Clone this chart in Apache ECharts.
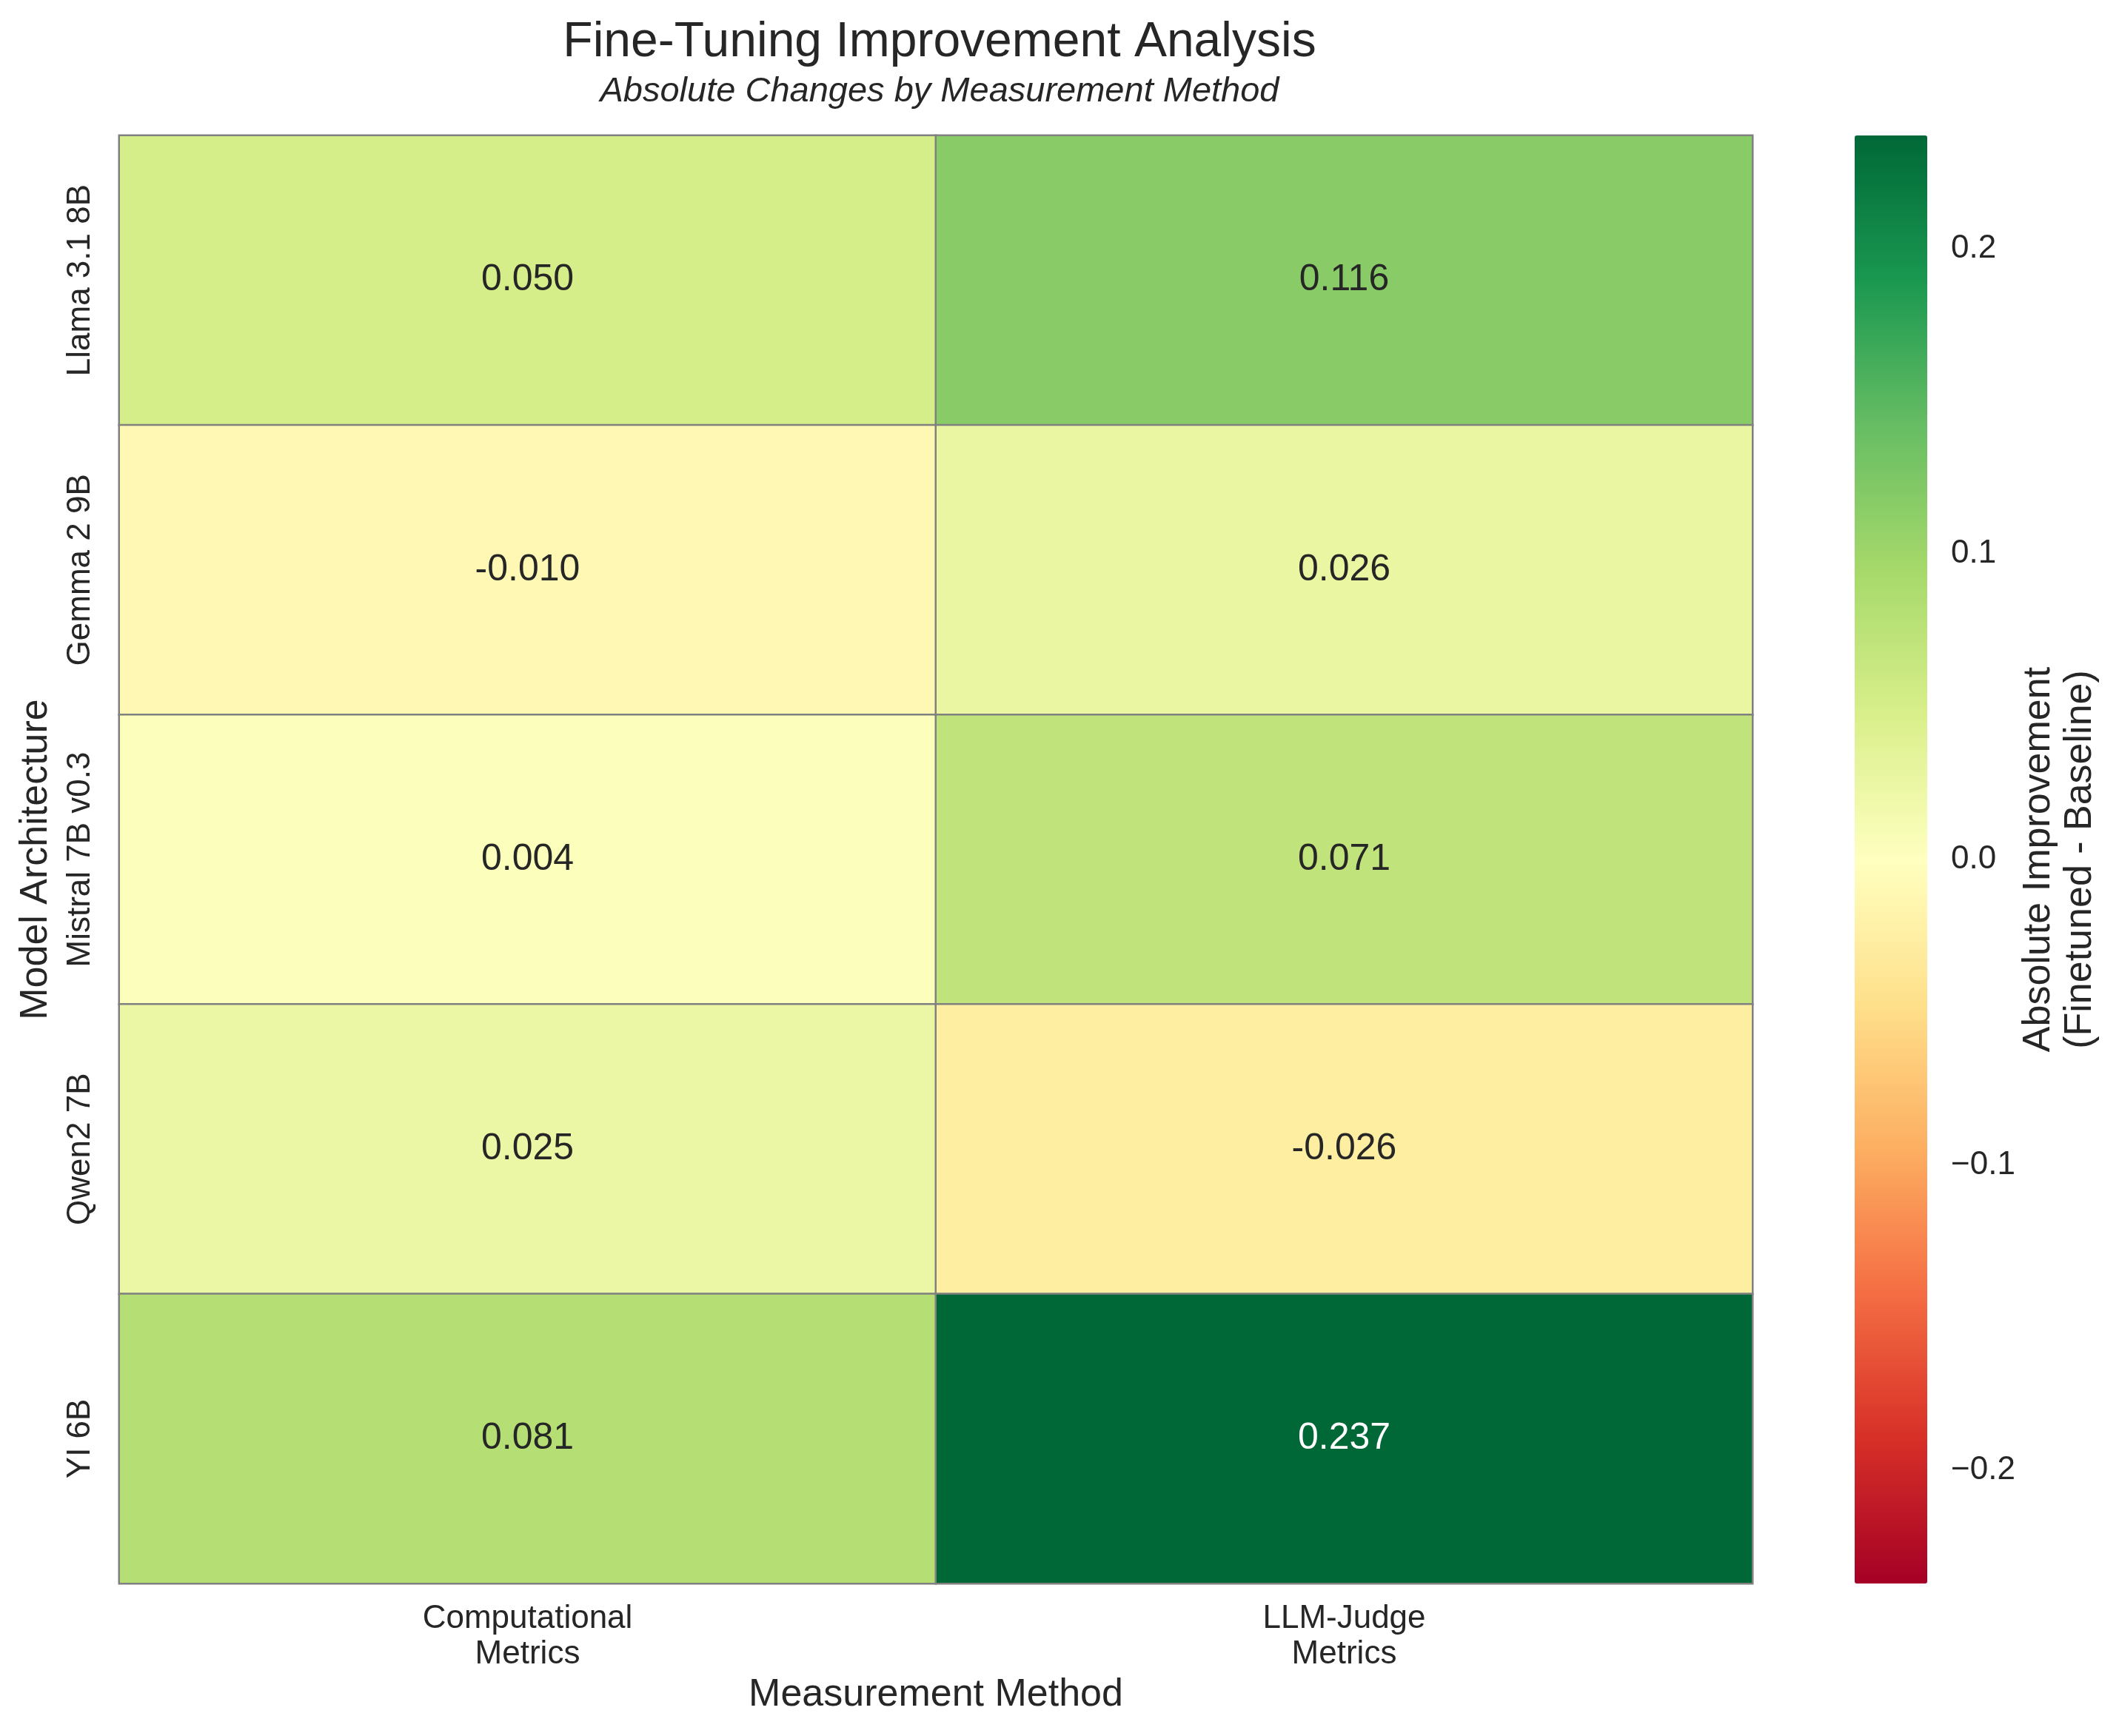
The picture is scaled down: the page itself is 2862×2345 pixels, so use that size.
<!DOCTYPE html>
<html>
<head>
<meta charset="utf-8">
<title>Fine-Tuning Improvement Analysis</title>
<script src="https://cdn.jsdelivr.net/npm/echarts@6/dist/echarts.min.js"></script>
<style>
  html, body { margin: 0; padding: 0; background: #fff; }
  #chart { width: 2862px; height: 2345px; }
</style>
</head>
<body>
<div id="chart"></div>
<script>
// data
var models = ['Llama 3.1 8B', 'Gemma 2 9B', 'Mistral 7B v0.3', 'Qwen2 7B', 'YI 6B'];
var methods = ['Computational\nMetrics', 'LLM-Judge\nMetrics'];
var computational = [0.050, -0.010, 0.004, 0.025, 0.081];
var llmJudge = [0.116, 0.026, 0.071, -0.026, 0.237];
var cbarTicks = [-0.2, -0.1, 0.0, 0.1, 0.2];

// RdYlGn
var rdYlGn = ['#a50026', '#d73027', '#f46d43', '#fdae61', '#fee08b', '#ffffbf',
  '#d9ef8b', '#a6d96a', '#66bd63', '#1a9850', '#006837'];

var font = "'Liberation Sans', Arial, sans-serif";
var ink = '#262626';

// symmetric range around 0
var vmax = 0;
computational.concat(llmJudge).forEach(function (v) {
  if (Math.abs(v) > vmax) vmax = Math.abs(v);
});

var cells = [];
[computational, llmJudge].forEach(function (col, x) {
  col.forEach(function (v, y) {
    cells.push({
      value: [x, y, v],
      label: { color: Math.abs(v) > 0.18 ? '#ffffff' : ink }
    });
  });
});

var chart = echarts.init(document.getElementById('chart'));
var option = {
  backgroundColor: '#ffffff',
  animation: false,
  textStyle: { fontFamily: font, color: ink },
  title: [
    {
      text: 'Fine-Tuning Improvement Analysis',
      left: 1264, top: 20, textAlign: 'center',
      textStyle: { fontFamily: font, fontSize: 66, fontWeight: 'normal', color: ink }
    },
    {
      text: 'Absolute Changes by Measurement Method',
      left: 1264, top: 95, textAlign: 'center',
      textStyle: { fontFamily: font, fontSize: 47, fontStyle: 'italic', fontWeight: 'normal', color: ink }
    }
  ],
  grid: [
    { left: 161, top: 183, width: 2206, height: 1956 },
    { left: 2505, top: 183, width: 98, height: 1956 }
  ],
  xAxis: [
    {
      type: 'category', gridIndex: 0, data: methods, position: 'bottom',
      name: 'Measurement Method', nameLocation: 'middle', nameGap: 122,
      nameTextStyle: { fontFamily: font, fontSize: 52, color: ink },
      axisLine: { show: false }, axisTick: { show: false }, splitLine: { show: false },
      axisLabel: { fontFamily: font, fontSize: 44, color: ink, margin: 24, lineHeight: 48 }
    },
    { type: 'value', gridIndex: 1, show: false, min: 0, max: 1 }
  ],
  yAxis: [
    {
      type: 'category', gridIndex: 0, data: models, inverse: true,
      name: 'Model Architecture', nameLocation: 'middle', nameGap: 86, nameRotate: 90,
      nameTextStyle: { fontFamily: font, fontSize: 52, color: ink },
      axisLine: { show: false }, axisTick: { show: false }, splitLine: { show: false },
      axisLabel: { fontFamily: font, fontSize: 44, color: ink, rotate: 90, margin: 30 }
    },
    {
      // colorbar scale
      type: 'value', gridIndex: 1, position: 'right', min: -vmax, max: vmax,
      name: 'Absolute Improvement\n(Finetuned - Baseline)', nameLocation: 'middle',
      nameGap: 118, nameRotate: 90,
      nameTextStyle: { fontFamily: font, fontSize: 52, color: ink, lineHeight: 56 },
      axisLine: { show: false }, splitLine: { show: false },
      axisTick: { show: true, length: 15, customValues: cbarTicks, lineStyle: { color: ink, width: 2 } },
      axisLabel: {
        fontFamily: font, fontSize: 44, color: ink, margin: 32, customValues: cbarTicks,
        formatter: function (v) { return v.toFixed(1).replace('-', '\u2212'); }
      }
    }
  ],
  visualMap: {
    type: 'continuous', seriesIndex: 0, min: -vmax, max: vmax,
    orient: 'vertical', left: 2505, top: 183, padding: 0,
    itemWidth: 98, itemHeight: 1956, calculable: false, hoverLink: false,
    inRange: { color: rdYlGn }
  },
  series: [
    {
      type: 'heatmap', xAxisIndex: 0, yAxisIndex: 0, data: cells,
      itemStyle: { borderColor: '#808080', borderWidth: 2.5 },
      label: {
        show: true, fontFamily: font, fontSize: 50,
        formatter: function (p) { return p.value[2].toFixed(3); }
      },
      emphasis: { disabled: true }
    }
  ]
};
chart.setOption(option);
</script>
</body>
</html>
